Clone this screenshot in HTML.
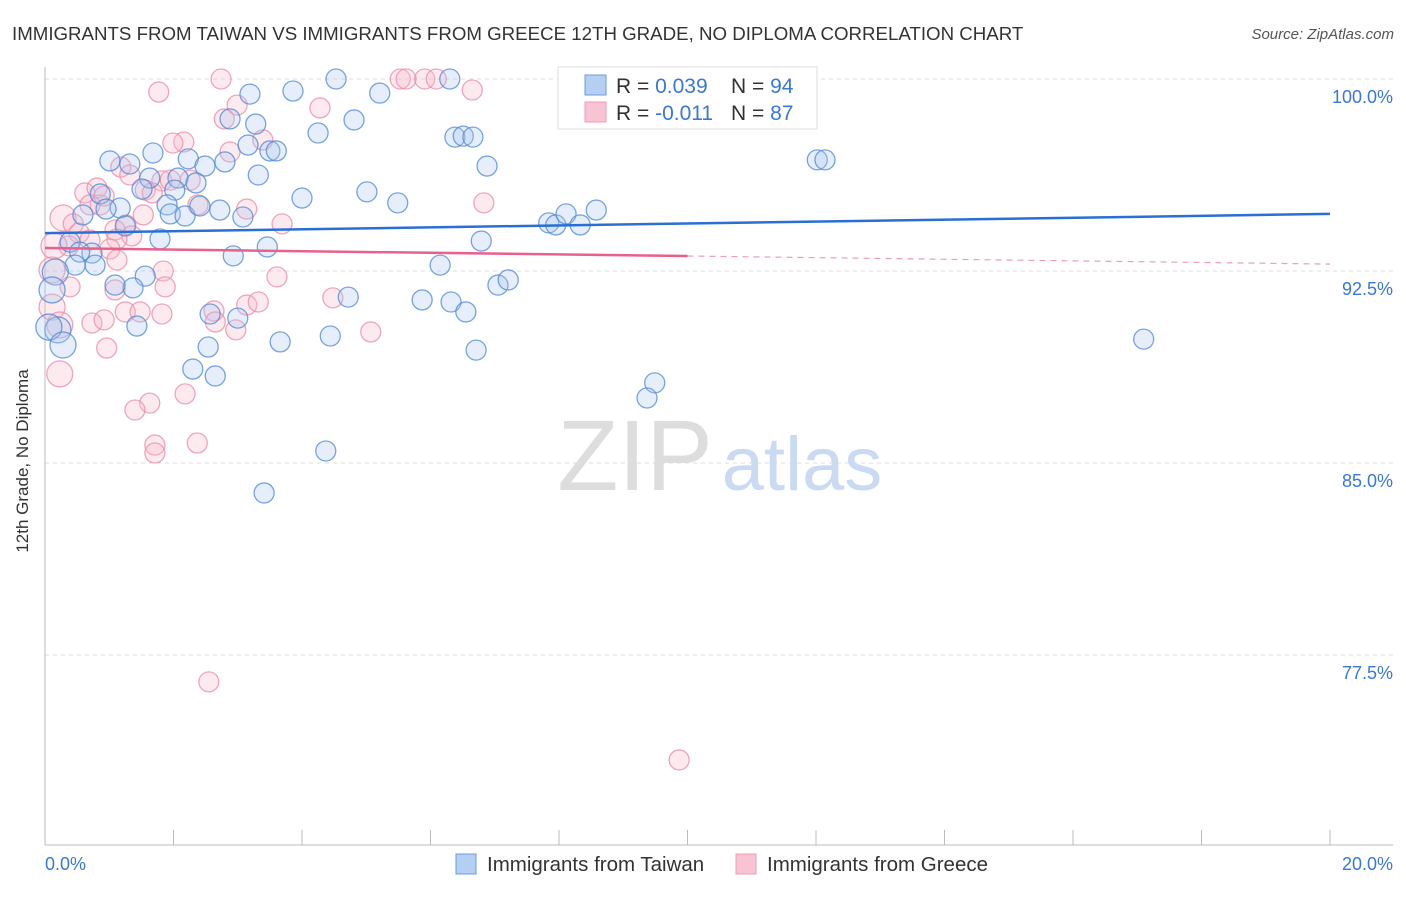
<!DOCTYPE html>
<html><head><meta charset="utf-8"><style>
body{margin:0;background:#fff;font-family:"Liberation Sans",sans-serif;}
svg text{font-family:"Liberation Sans",sans-serif;}
</style></head><body>
<svg id="chart" width="1406" height="892" viewBox="0 0 1406 892" xmlns="http://www.w3.org/2000/svg">
<text x="12" y="40" font-size="18.7" fill="#333">IMMIGRANTS FROM TAIWAN VS IMMIGRANTS FROM GREECE 12TH GRADE, NO DIPLOMA CORRELATION CHART</text>
<text x="1394" y="39" font-size="15" fill="#555" font-style="italic" text-anchor="end">Source: ZipAtlas.com</text>
<g id="grid"></g>
<g>
<text x="635" y="490" font-size="100" font-family="Liberation Serif,serif" fill="#ddd" text-anchor="middle">ZIP</text>
<text x="802" y="490" font-size="76" fill="#c9daf2" text-anchor="middle">atlas</text>
</g>
<g id="axes"></g>
<g id="pink-points"></g>
<g id="blue-points"></g>
<g id="trends"></g>
<text x="22" y="455" font-size="17" fill="#333" text-anchor="middle" transform="rotate(-90 28 455)">12th Grade, No Diploma</text>
<g>
<rect x="558" y="67" width="259" height="62" fill="#fff" stroke="#ddd"/>
<rect x="585" y="75" width="21" height="20" fill="#b5cff2" stroke="#6a9ee0"/>
<rect x="585" y="102" width="21" height="20" fill="#f8c4d3" stroke="#ee9cb5"/>
<text x="616" y="93" font-size="21" fill="#333">R = <tspan fill="#3a78d4">0.039</tspan><tspan x="731">N = </tspan><tspan fill="#3a78d4">94</tspan></text>
<text x="616" y="120" font-size="21" fill="#333">R = <tspan fill="#3a78d4">-0.011</tspan><tspan x="731">N = </tspan><tspan fill="#3a78d4">87</tspan></text>
</g>
<g>
<rect x="456" y="854" width="20" height="20" fill="#b5cff2" stroke="#6a9ee0"/>
<text x="487" y="871" font-size="20.5" fill="#333">Immigrants from Taiwan</text>
<rect x="736" y="854" width="20" height="20" fill="#f8c4d3" stroke="#ee9cb5"/>
<text x="767" y="871" font-size="20.5" fill="#333">Immigrants from Greece</text>
</g>
</svg>
<script>
const yTicks=[100,92.5,85,77.5];
const yTickLabels=["100.0%","92.5%","85.0%","77.5%"];
const xTickLabels=["0.0%","20.0%"];
const blueX=[4.53,6.30,11.75,3.19,3.86,5.21,2.88,3.28,4.81,4.25,6.38,6.51,6.66,1.68,3.16,3.50,3.60,1.01,1.32,2.23,2.49,2.80,6.88,12.02,12.14,1.63,2.07,3.32,2.35,1.51,2.02,5.01,4.00,5.49,0.86,1.17,0.95,0.59,1.90,1.95,2.72,3.08,2.18,2.41,7.84,7.95,8.11,8.33,8.58,1.25,0.39,0.73,0.54,1.79,3.46,2.93,6.79,0.47,0.78,6.15,0.16,0.11,1.56,1.37,1.09,7.05,7.21,4.72,5.87,6.32,6.55,2.57,3.00,1.43,0.20,0.06,4.44,3.66,0.28,2.54,6.71,17.10,2.30,2.65,9.49,9.37,4.37,3.41];
const blueY=[100,100,100,99.41,99.53,99.45,98.44,98.24,98.40,97.89,97.73,97.77,97.73,97.11,97.42,97.19,97.19,96.80,96.68,96.88,96.60,96.76,96.60,96.84,96.84,96.13,96.13,96.25,95.94,95.70,95.66,95.59,95.35,95.16,95.51,94.96,94.92,94.69,95.08,94.73,94.88,94.61,94.65,95.04,94.38,94.30,94.73,94.30,94.88,94.26,93.63,93.20,93.24,93.75,93.44,93.09,93.67,92.73,92.73,92.73,92.46,91.76,92.30,91.84,91.95,91.95,92.15,91.48,91.37,91.29,90.90,90.82,90.66,90.35,90.20,90.31,89.96,89.73,89.61,89.53,89.41,89.84,88.67,88.40,88.13,87.54,85.47,83.83];
const pinkX=[2.74,5.53,5.62,5.91,6.09,1.77,6.65,2.99,4.28,2.79,2.16,1.99,2.88,1.18,1.32,1.82,1.95,2.26,0.62,0.81,0.86,0.70,0.92,1.56,1.67,2.38,0.28,0.44,1.26,1.09,1.35,1.12,3.69,3.39,6.83,1.53,0.53,0.37,0.14,0.70,0.11,1.01,1.12,3.61,1.84,0.39,1.09,1.87,4.48,5.07,0.11,0.23,0.73,0.92,1.25,1.48,1.82,3.14,3.32,2.63,2.97,2.65,0.96,0.23,2.18,1.63,1.40,2.37,1.71,1.71,2.55,9.87,3.14];
const pinkY=[100,100,100,100,100,99.49,99.57,98.98,98.87,98.44,97.54,97.50,97.15,96.56,96.25,96.02,96.05,96.05,95.55,95.74,95.08,95.08,95.43,95.66,95.55,95.08,94.57,94.34,94.30,94.10,93.87,93.75,94.34,97.62,95.16,94.69,93.98,93.48,93.48,93.71,92.54,93.36,92.93,92.27,92.50,91.88,91.76,91.88,91.45,90.12,91.09,90.39,90.47,90.59,90.90,90.90,90.82,91.17,91.29,90.94,90.20,90.51,89.49,88.48,87.70,87.34,87.07,85.78,85.70,85.39,76.45,73.40,94.92];
const blueTrend=[93.98,94.73];
const pinkTrend=[93.40,92.77];
const pinkSolidEnd=10;

const NS="http://www.w3.org/2000/svg";
const X0=45,XPX=64.25,Y0=79,YPX=25.6;
function sx(v){return X0+v*XPX;}
function sy(v){return Y0+(100-v)*YPX;}
function mk(tag,attrs,parent){const e=document.createElementNS(NS,tag);for(const k in attrs)e.setAttribute(k,attrs[k]);parent.appendChild(e);return e;}
const grid=document.getElementById('grid');
yTicks.forEach((t,i)=>{
  const l=mk('line',{x1:45,x2:1393,y1:sy(t),y2:sy(t),stroke:'#ddd','stroke-dasharray':'4 4'},grid);
  
  
  const tx=mk('text',{x:1393,y:sy(t)+24,'font-size':18,fill:'#3a78d4','text-anchor':'end'},grid);
  tx.textContent=yTickLabels[i];
  
  
});
const axes=document.getElementById('axes');
mk('line',{x1:45,x2:45,y1:67,y2:845,stroke:'#bbb'},axes);
mk('line',{x1:45,x2:1393,y1:845,y2:845,stroke:'#bbb'},axes);
for(let i=0;i<=20;i+=2){
  const t=mk('line',{x1:sx(i),x2:sx(i),y1:830,y2:845,stroke:'#bbb'},axes);
  
  
}
const xl0=mk('text',{x:45,y:870,'font-size':18,fill:'#3a78d4'},axes);xl0.textContent=xTickLabels[0];


const xl1=mk('text',{x:1393,y:870,'font-size':18,fill:'#3a78d4','text-anchor':'end'},axes);xl1.textContent=xTickLabels[1];


function pts(xs,ys,g,fill,stroke,name){
  xs.forEach((x,i)=>{
    const r=x<0.3?13:10;
    const c=mk('circle',{cx:sx(x),cy:sy(ys[i]),r:r,fill:fill,'fill-opacity':0.3,stroke:stroke,'stroke-width':1.3,'stroke-opacity':0.75},g);
    
    
  });
}
pts(pinkX,pinkY,document.getElementById('pink-points'),'#f6b8ca','#ea8aa8','greece-point');
pts(blueX,blueY,document.getElementById('blue-points'),'#a9c7f0','#4d86d6','taiwan-point');
const tr=document.getElementById('trends');
const bl=mk('line',{x1:sx(0),y1:sy(blueTrend[0]),x2:sx(20),y2:sy(blueTrend[1]),stroke:'#2a6fd6','stroke-width':2.5},tr);


const pm=pinkTrend[0]+(pinkTrend[1]-pinkTrend[0])*pinkSolidEnd/20;
const pl=mk('line',{x1:sx(0),y1:sy(pinkTrend[0]),x2:sx(pinkSolidEnd),y2:sy(pm),stroke:'#e8608c','stroke-width':2.5},tr);


const pd=mk('line',{x1:sx(pinkSolidEnd),y1:sy(pm),x2:sx(20),y2:sy(pinkTrend[1]),stroke:'#e8a0b8','stroke-width':1.2,'stroke-dasharray':'6 5'},tr);


</script>
</body></html>
